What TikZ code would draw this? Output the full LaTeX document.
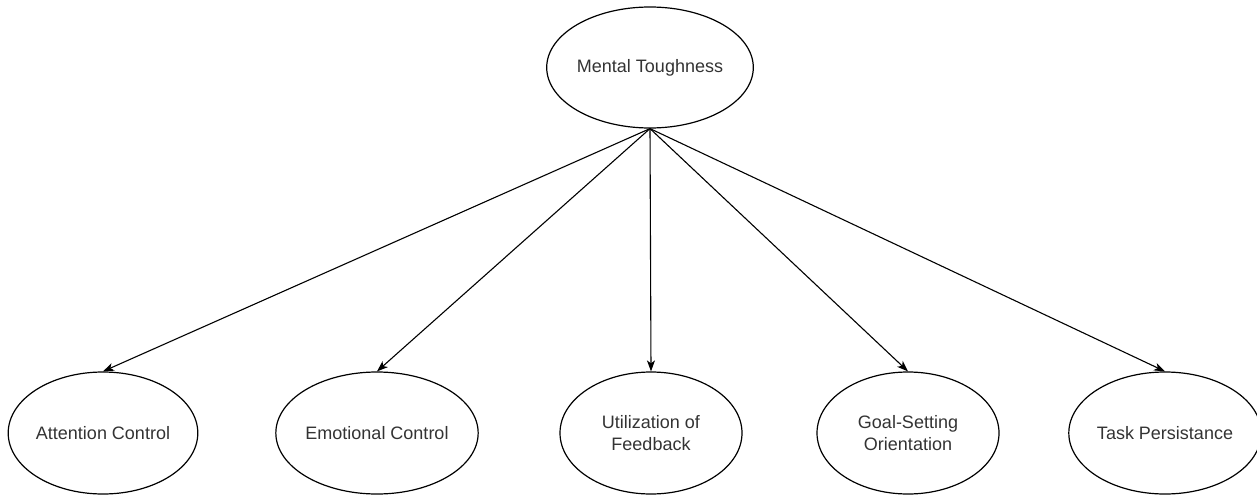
\documentclass[tikz,border=0pt]{standalone}
\usepackage{fontspec}
\setmainfont{Liberation Sans}
\usetikzlibrary{shapes.geometric,arrows.meta}
\begin{document}
\begin{tikzpicture}[x=1pt,y=-1pt,
  oval/.style={ellipse,draw=black,line width=1.2pt,minimum width=182pt,minimum height=122pt,inner sep=0pt,
    align=center,text=black!80,font=\fontsize{18}{21.6}\selectfont},
  link/.style={draw=black,line width=1.1pt,-{Stealth[length=11pt,width=8pt,inset=3pt]}}]
\useasboundingbox (0,0) rectangle (1257,495);
\node[oval,minimum width=178pt,minimum height=121pt] (mt) at (650,67.5) {Mental Toughness};
\node[oval] (ac) at (103,433) {Attention Control};
\node[oval] (ec) at (377,433) {Emotional Control};
\node[oval] (uf) at (651,433) {Utilization of\\Feedback};
\node[oval] (gs) at (908,433) {Goal-Setting\\Orientation};
\node[oval] (tp) at (1165,433) {Task Persistance};
\foreach \t in {ac,ec,uf,gs,tp}{\draw[link] (mt.south) -- (\t.north);}
\end{tikzpicture}
\end{document}
